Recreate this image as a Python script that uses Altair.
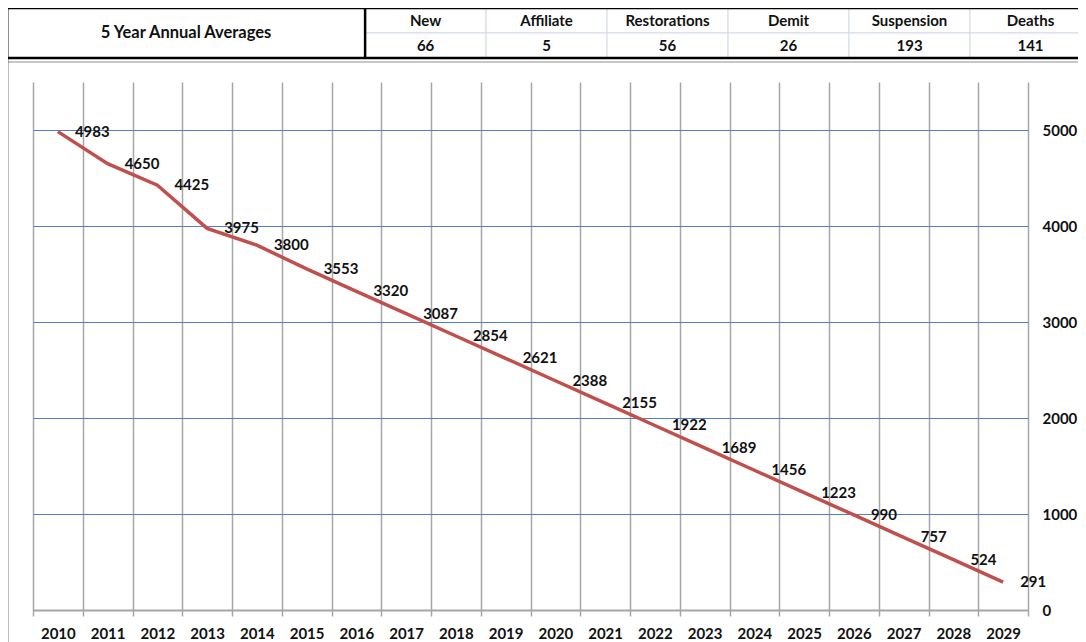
import altair as alt
import pandas as pd

# ---- data ----
YEARS = [str(y) for y in range(2010, 2030)]
MEMBERS = [4983, 4650, 4425, 3975, 3800, 3553, 3320, 3087, 2854, 2621,
           2388, 2155, 1922, 1689, 1456, 1223, 990, 757, 524, 291]
TABLE_TITLE = "5 Year Annual Averages"
CATEGORIES = ["New", "Affiliate", "Restorations", "Demit", "Suspension", "Deaths"]
AVERAGES = [66, 5, 56, 26, 193, 141]
Y_TICKS = [0, 1000, 2000, 3000, 4000, 5000]

# ---- layout ----
PLOT_W, PLOT_H = 995, 528
FONT = "Lato"
TITLE_SPAN = 2.96  # width of the title cell, in table-column units
N = len(CATEGORIES)

line_df = pd.DataFrame({"year": YEARS, "members": MEMBERS,
                        "label": [str(v) for v in MEMBERS]})

cells = []
for i, (c, v) in enumerate(zip(CATEGORIES, AVERAGES)):
    cells.append(dict(x0=i, x1=i + 1, y0=0, y1=1, text=c))
    cells.append(dict(x0=i, x1=i + 1, y0=1, y1=2, text=str(v)))
cells_df = pd.DataFrame(cells)
cells_df["xm"] = (cells_df.x0 + cells_df.x1) / 2
cells_df["ym"] = (cells_df.y0 + cells_df.y1) / 2

title_df = pd.DataFrame([dict(x0=-TITLE_SPAN, x1=0, y0=0, y1=2,
                              xm=-TITLE_SPAN / 2, ym=1, text=TABLE_TITLE)])
frame_df = pd.DataFrame([dict(x0=-TITLE_SPAN, x1=N, y0=0, y1=2)])

TX = alt.Scale(domain=[-TITLE_SPAN, N], range=[-26, 1058], nice=False, zero=False)
TY = alt.Scale(domain=[0, 2], range=[-74, -24], nice=False, zero=False)

cell_rect = alt.Chart(cells_df).mark_rect(fill="white", stroke="#d3dae6", strokeWidth=1).encode(
    x=alt.X("x0:Q", scale=TX, axis=None), x2="x1",
    y=alt.Y("y0:Q", scale=TY, axis=None), y2="y1")
cell_text = alt.Chart(cells_df).mark_text(font=FONT, fontWeight="bold", fontSize=15, color="#111").encode(
    x=alt.X("xm:Q", scale=TX, axis=None),
    y=alt.Y("ym:Q", scale=TY, axis=None), text="text:N")
title_text = alt.Chart(title_df).mark_text(font=FONT, fontWeight="bold", fontSize=16.5, color="#111").encode(
    x=alt.X("xm:Q", scale=TX, axis=None),
    y=alt.Y("ym:Q", scale=TY, axis=None), text="text:N")
outer = alt.Chart(frame_df).mark_rect(fillOpacity=0, stroke="black", strokeWidth=2.5).encode(
    x=alt.X("x0:Q", scale=TX, axis=None), x2="x1",
    y=alt.Y("y0:Q", scale=TY, axis=None), y2="y1")
divider = alt.Chart(title_df).mark_rule(color="black", strokeWidth=2.5).encode(
    x=alt.X("x1:Q", scale=TX, axis=None),
    y=alt.Y("y0:Q", scale=TY, axis=None), y2="y1")
under = alt.Chart(frame_df).mark_rule(color="#b4b4b4", strokeWidth=1.5).encode(
    x=alt.X("x0:Q", scale=TX, axis=None), x2="x1",
    y=alt.Y("u:Q", scale=TY, axis=None)).transform_calculate(u="datum.y1 + 0.16")
left_frame = alt.Chart(frame_df).mark_rule(color="black", strokeWidth=2.5).encode(
    x=alt.X("x0:Q", scale=TX, axis=None),
    y=alt.Y("y0:Q", scale=TY, axis=None), y2="b:Q").transform_calculate(b="30")

base = alt.Chart(line_df).encode(
    x=alt.X("year:O", bandPosition=0.5,
            scale=alt.Scale(type="band", paddingInner=0, paddingOuter=0),
            axis=alt.Axis(title=None, labelAngle=0, tickBand="extent", grid=True,
                          gridColor="#a6a6a6", gridWidth=1.5,
                          domainColor="#a6a6a6", domainWidth=2,
                          tickColor="#a6a6a6", tickWidth=1.5, tickSize=6,
                          labelFont=FONT, labelFontWeight="bold", labelFontSize=15,
                          labelColor="#111", labelPadding=10)),
    y=alt.Y("members:Q", scale=alt.Scale(domain=[0, 5500], nice=False),
            axis=alt.Axis(title=None, orient="right", values=Y_TICKS, format="d",
                          grid=True, gridColor="#4f81bd", gridWidth=1.2,
                          domain=False, ticks=False, labelPadding=14,
                          labelFont=FONT, labelFontWeight="bold", labelFontSize=15,
                          labelColor="#111")))
line = base.mark_line(color="#c0504d", strokeWidth=3.5)
labels = base.mark_text(align="left", baseline="middle", dx=17, font=FONT,
                        fontWeight="bold", fontSize=15, color="#111").encode(text="label:N")
line_chart = alt.layer(line, labels)

chart = alt.layer(cell_rect, outer, divider, under, left_frame, cell_text, title_text, line_chart).resolve_scale(
    x="independent", y="independent"
).properties(
    width=PLOT_W, height=PLOT_H,
    padding={"left": 25, "top": 74, "right": 50, "bottom": 34},
    autosize=alt.AutoSizeParams(type="none"),
    background="white",
).configure_view(stroke=None)

chart.save("out.html", embed_options={"renderer": "svg", "actions": False})
